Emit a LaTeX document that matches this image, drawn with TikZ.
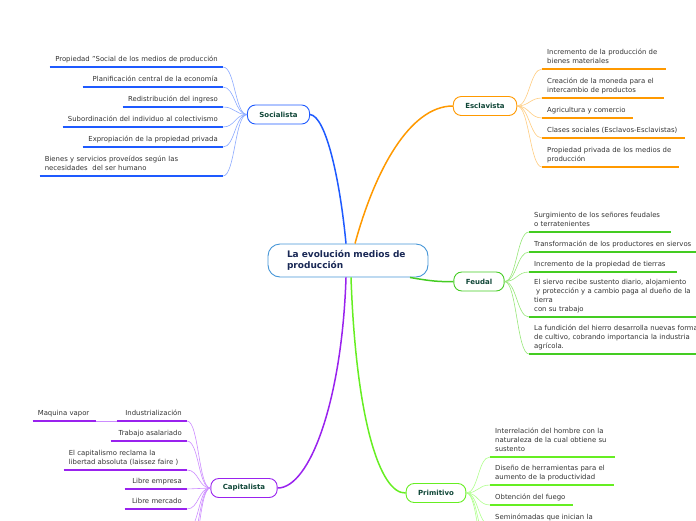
\documentclass[tikz,border=0pt]{standalone}
\usepackage{fontspec}
\setmainfont{DejaVu Sans}
\usepackage{tikz}
\usetikzlibrary{positioning}
\definecolor{socblue}{RGB}{30,90,255}
\definecolor{soclight}{RGB}{140,170,255}
\definecolor{esclorange}{RGB}{255,153,0}
\definecolor{escllight}{RGB}{255,204,128}
\definecolor{feudgreen}{RGB}{68,204,34}
\definecolor{feudlight}{RGB}{150,230,120}
\definecolor{cappurple}{RGB}{153,34,238}
\definecolor{caplight}{RGB}{204,140,255}
\definecolor{primgreen}{RGB}{102,238,34}
\definecolor{primlight}{RGB}{175,255,140}
\definecolor{hubblue}{RGB}{70,150,215}
\definecolor{hubtext}{RGB}{25,40,85}
\definecolor{topictext}{RGB}{15,70,55}
\definecolor{leaftext}{RGB}{51,51,51}

\begin{document}
\begin{tikzpicture}[x=1pt, y=-1pt,
    hub/.style={rectangle, rounded corners=12pt, draw=hubblue, line width=0.9pt, fill=white, minimum width=160pt, minimum height=33pt, text width=122pt, inner xsep=19pt, align=left, font=\fontsize{9}{11}\selectfont\bfseries, text=hubtext},
    topic/.style={rectangle, rounded corners=8pt, line width=0.9pt, fill=white, minimum height=19pt, inner xsep=12pt, font=\fontsize{7}{8}\selectfont\bfseries, text=topictext},
    lleaf/.style={anchor=south east, text width=#1, align=right, inner xsep=5pt, inner ysep=2.6pt, font=\fontsize{6.9}{9}\selectfont, text=leaftext, execute at end node=\strut},
    rleaf/.style={anchor=south west, text width=#1, align=left, inner xsep=5pt, inner ysep=2.6pt, font=\fontsize{6.9}{9}\selectfont, text=leaftext, execute at end node=\strut},
    branch/.style={line width=1.5pt},
    twig/.style={line width=0.6pt},
    uline/.style={line width=1.4pt}
]
\useasboundingbox (0,0) rectangle (696,520);
\clip (0,0) rectangle (696,520);

\node[hub] (hub) at (348,260.5) {La evolución medios de\\producción};

\node[topic, draw=socblue] (soc) at (278.5,114.5) {Socialista};
\node[topic, draw=esclorange] (escl) at (485,106) {Esclavista};
\node[topic, draw=feudgreen] (feud) at (479,281.5) {Feudal};
\node[topic, draw=cappurple] (cap) at (244,488) {Capitalista};
\node[topic, draw=primgreen] (prim) at (436,493) {Primitivo};

\draw[branch, socblue] ([xshift=-2pt]hub.north) .. controls (340,180) and (326,116) .. (soc.east);
\draw[branch, esclorange] ([xshift=7pt]hub.north) .. controls (375,170) and (410,106) .. (escl.west);
\draw[branch, feudgreen] ([xshift=62pt]hub.south) .. controls (430,281) and (440,282) .. (feud.west);
\draw[branch, cappurple] ([xshift=-2pt]hub.south) .. controls (342,400) and (310,488) .. (cap.east);
\draw[branch, primgreen] ([xshift=3pt]hub.south) .. controls (356,420) and (380,494) .. (prim.west);

% Socialista
\node[lleaf=163pt] (s1) at (223,67) {Propiedad "Social de los medios de producción};
\node[lleaf=130pt] (s2) at (223,87) {Planificación central de la economía};
\node[lleaf=90pt] (s3) at (223,107) {Redistribución del ingreso};
\node[lleaf=150pt] (s4) at (223,127) {Subordinación del individuo al colectivismo};
\node[lleaf=130pt] (s5) at (223,147) {Expropiación de la propiedad privada};
\node[lleaf=173pt, align=left] (s6) at (223,176) {Bienes y servicios proveídos según las\\necesidades\ \ del ser humano};
\foreach \l in {s1,s2,s3,s4,s5,s6} {
  \draw[twig, soclight] (soc.west) .. controls +(-12,0) and +(12,0) .. (\l.south east);
  \draw[uline, socblue] (\l.south west) -- (\l.south east);
}

% Esclavista
\node[rleaf=114pt] (e1) at (542,69) {Incremento de la producción de\\bienes materiales};
\node[rleaf=112pt] (e2) at (542,98) {Creación de la moneda para el\\intercambio de productos};
\node[rleaf=81pt] (e3) at (542,118) {Agricultura y comercio};
\node[rleaf=133pt] (e4) at (542,138) {Clases sociales (Esclavos-Esclavistas)};
\node[rleaf=127pt] (e5) at (542,167) {Propiedad privada de los medios de\\producción};
\foreach \l in {e1,e2,e3,e4,e5} {
  \draw[twig, escllight] (escl.east) .. controls +(12,0) and +(-12,0) .. (\l.south west);
  \draw[uline, esclorange] (\l.south west) -- (\l.south east);
}

% Feudal
\node[rleaf=132pt] (f1) at (529,232) {Surgimiento de los señores feudales\\o terratenientes};
\node[rleaf=170pt] (f2) at (529,252) {Transformación de los productores en siervos};
\node[rleaf=138pt] (f3) at (529,272) {Incremento de la propiedad de tierras};
\node[rleaf=180pt] (f4) at (529,317) {El siervo recibe sustento diario, alojamiento\\\hspace*{2pt}y protección y a cambio paga al dueño de la\\tierra\\con su trabajo};
\node[rleaf=190pt] (f5) at (529,354) {La fundición del hierro desarrolla nuevas formas\\de cultivo, cobrando importancia la industria\\agrícola.};
\foreach \l in {f1,f2,f3,f4,f5} {
  \draw[twig, feudlight] (feud.east) .. controls +(12,0) and +(-12,0) .. (\l.south west);
  \draw[uline, feudgreen] (\l.south west) -- (\l.south east);
}

% Capitalista
\node[lleaf=60pt] (c1) at (187,421) {Industrialización};
\node[lleaf=53pt, align=left] (mv) at (96,421) {Maquina vapor};
\node[lleaf=66pt] (c2) at (187,441) {Trabajo asalariado};
\node[lleaf=113pt, align=left] (c3) at (187,470) {El capitalismo reclama la\\libertad absoluta (laissez faire )};
\node[lleaf=52pt] (c4) at (187,489) {Libre empresa};
\node[lleaf=52pt] (c5) at (187,509) {Libre mercado};
\coordinate (c6) at (187,530);
\coordinate (c7) at (187,550);
\coordinate (c8) at (187,570);
\foreach \l in {c1,c2,c3,c4,c5} {
  \draw[twig, caplight] (cap.west) .. controls +(-12,0) and +(12,0) .. (\l.south east);
  \draw[uline, cappurple] (\l.south west) -- (\l.south east);
}
\foreach \l in {c6,c7,c8}
  \draw[twig, caplight] (cap.west) .. controls +(-12,0) and +(12,0) .. (\l);
\draw[twig, caplight] (c1.south west) -- (mv.south east);
\draw[uline, cappurple] (mv.south west) -- (mv.south east);

% Primitivo
\node[rleaf=115pt] (p1) at (490,457) {Interrelación del hombre con la\\naturaleza de la cual obtiene su\\sustento};
\node[rleaf=114pt] (p2) at (490,485) {Diseño de herramientas para el\\aumento de la productividad};
\node[rleaf=73pt] (p3) at (490,505) {Obtención del fuego};
\node[rleaf=110pt] (p4) at (490,525) {Seminómadas que inician la};
\coordinate (p5) at (490,545);
\coordinate (p6) at (490,565);
\foreach \l in {p1,p2,p3,p4} {
  \draw[twig, primlight] (prim.east) .. controls +(12,0) and +(-12,0) .. (\l.south west);
  \draw[uline, primgreen] (\l.south west) -- (\l.south east);
}
\foreach \l in {p5,p6}
  \draw[twig, primlight] (prim.east) .. controls +(12,0) and +(-12,0) .. (\l);
\end{tikzpicture}
\end{document}
